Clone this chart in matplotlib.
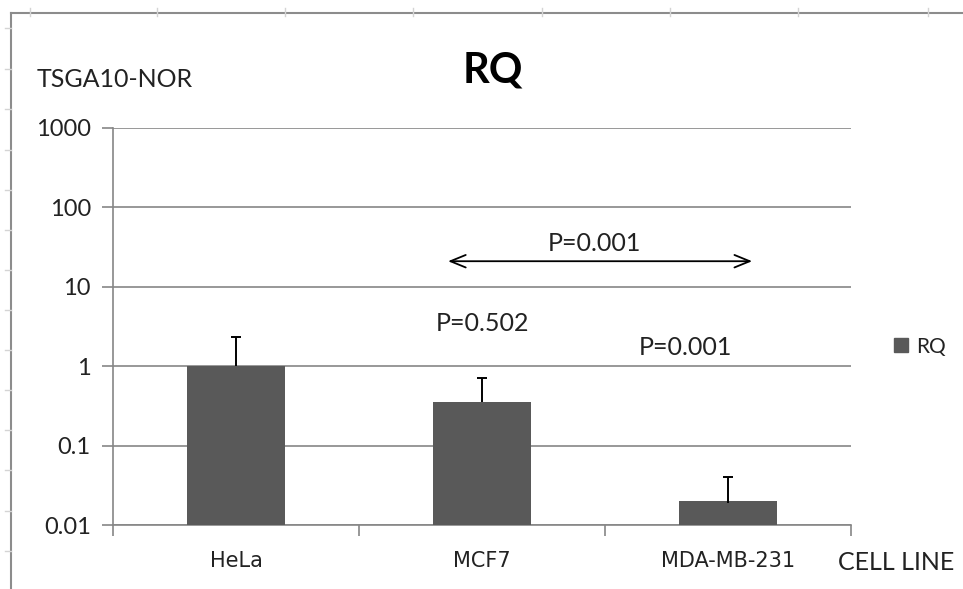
import matplotlib
matplotlib.use("Agg")
import matplotlib.pyplot as plt
from matplotlib.lines import Line2D
from matplotlib.patches import Rectangle

cell_lines = ["HeLa", "MCF7", "MDA-MB-231"]
rq = [1.0, 0.352, 0.019]
rq_err = [1.32, 0.35, 0.021]
yticks = [0.01, 0.1, 1, 10, 100, 1000]
ytick_labels = ["0.01", "0.1", "1", "10", "100", "1000"]

bar_color = "#595959"
grid_color = "#868686"
txt = "#222222"
plt.rcParams["font.family"] = ["Lato", "DejaVu Sans"]

W, H = 963, 589
fig = plt.figure(figsize=(W / 100, H / 100), dpi=100)

def fx(px):
    return px / W

def fy(py):
    return 1 - py / H

ax = fig.add_axes([fx(113), fy(525), fx(851) - fx(113), fy(128) - fy(525)])

x = list(range(len(cell_lines)))
ax.bar(x, rq, width=0.4, color=bar_color, zorder=3, bottom=0.001)
# upper error bars only
tops = [v + e for v, e in zip(rq, rq_err)]
ax.vlines(x, rq, tops, color="black", lw=1.4, zorder=4)
ax.hlines(tops, [i - 0.02 for i in x], [i + 0.02 for i in x], color="black", lw=1.4, zorder=4)

ax.set_yscale("log")
ax.set_ylim(0.01, 1000)
ax.set_xlim(-0.5, 2.5)
ax.set_yticks(yticks)
ax.set_yticklabels(ytick_labels)
ax.yaxis.set_minor_locator(matplotlib.ticker.NullLocator())
ax.set_xticks(x)
ax.set_xticklabels(cell_lines, family="DejaVu Sans", fontsize=15, color=txt)
ax.set_xticks([-0.5, 0.5, 1.5, 2.5], minor=True)
ax.tick_params(axis="x", which="major", length=0, pad=19)
ax.tick_params(axis="x", which="minor", length=8, width=1.2, color=grid_color)
ax.tick_params(axis="y", length=8, width=1.2, color=grid_color, labelsize=17,
               pad=8, labelcolor=txt)

ax.grid(axis="y", color=grid_color, linewidth=1.2, zorder=0)
for s in ["top", "right"]:
    ax.spines[s].set_visible(False)
for s in ["left", "bottom"]:
    ax.spines[s].set_color(grid_color)
    ax.spines[s].set_linewidth(1.2)

# annotations
ax.annotate("", xy=(2.098, 21), xytext=(0.862, 21),
            arrowprops=dict(arrowstyle="<->,head_length=1.1,head_width=0.45",
                            color="black", lw=1.3, shrinkA=0, shrinkB=0), zorder=5)
ax.text(1.459, 35.4, "P=0.001", ha="center", va="center", fontsize=18, color=txt)
ax.text(1.0, 3.47, "P=0.502", ha="center", va="center", fontsize=18, color=txt)
ax.text(1.825, 1.73, "P=0.001", ha="center", va="center", fontsize=18, color=txt)

# titles and labels
fig.text(fx(493), fy(70), "RQ", ha="center", va="center", fontsize=30,
         fontweight="bold", color="black")
fig.text(fx(37), fy(80), "TSGA10-NOR", ha="left", va="center", fontsize=18, color=txt)
fig.text(fx(838), fy(563), "CELL LINE", ha="left", va="center", fontsize=18, color=txt)

# legend
fig.patches.append(Rectangle((fx(894), fy(352)), fx(14), 14 / H,
                             color=bar_color, transform=fig.transFigure))
fig.text(fx(916), fy(347), "RQ", ha="left", va="center", fontsize=15, color=txt)

# chart border and faint sheet cell marks
border = "#8c8c8c"
fig.add_artist(Line2D([fx(11), 1], [fy(13), fy(13)], color=border, lw=1.5))
fig.add_artist(Line2D([fx(11), fx(11)], [fy(13), 0], color=border, lw=1.5))
for px in [30, 157, 285, 413, 542, 670, 798, 928]:
    fig.add_artist(Line2D([fx(px), fx(px)], [fy(8), fy(16)], color="#d4d4d4", lw=1))
for py in [28, 69, 109, 150, 190, 230, 270, 310, 350, 390, 430, 470, 511, 551]:
    fig.add_artist(Line2D([fx(5), fx(11)], [fy(py), fy(py)], color="#d4d4d4", lw=1))

fig.savefig("out.png", dpi=100, facecolor="white")
